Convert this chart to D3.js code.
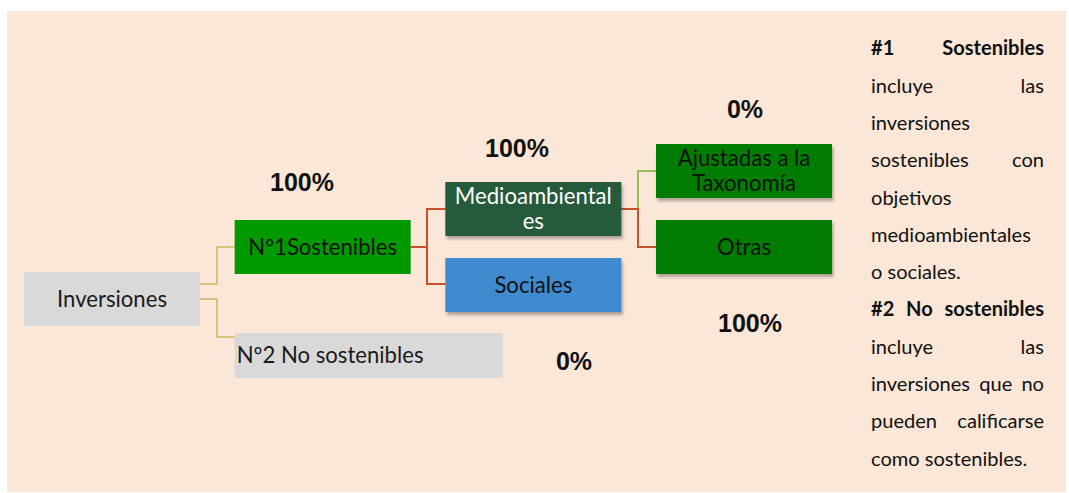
<!DOCTYPE html>
<html><head><meta charset="utf-8">
<script src="https://cdn.jsdelivr.net/npm/d3@7"></script>
<style>body{margin:0;background:#fff}svg{display:block}</style>
</head><body>
<svg id="c" width="1069" height="493"></svg>
<script>
// ---------- DATA ----------
const nodeNames   = ["Inversiones","Nº1Sostenibles","Nº2 No sostenibles","Medioambientales","Sociales","Ajustadas a la Taxonomía","Otras"];
const parentNames = [null,"Inversiones","Inversiones","Nº1Sostenibles","Nº1Sostenibles","Medioambientales","Medioambientales"];
const nodeLabelLines = [["Inversiones"],["Nº1Sostenibles"],["Nº2 No sostenibles"],["Medioambiental","es"],["Sociales"],["Ajustadas a la","Taxonomía"],["Otras"]];
const shareValues = [null,100,0,100,null,0,100];
const legendLines = ["#1 Sostenibles","incluye las","inversiones","sostenibles con","objetivos","medioambientales","o sociales.",
                     "#2 No sostenibles","incluye las","inversiones que no","pueden calificarse","como sostenibles."];
const legendBold    = [true,false,false,false,false,false,false,true,false,false,false,false];
const legendJustify = [true,true,false,true,false,false,false,true,true,true,true,false];

// ---------- LAYOUT / STYLE ----------
const W = 1069, H = 493;
const svg = d3.select("#c");
const colX = d3.scaleLinear().domain([0,3]).range([24,656]);
const boxStyle = {
  "Inversiones":              {top:272, h:54, w:176, fill:"#D9D9D9", color:"#1a1a1a", shadow:false, anchor:"middle"},
  "Nº1Sostenibles":           {top:220, h:54, w:176, fill:"#009900", color:"#111",    shadow:false, anchor:"middle"},
  "Nº2 No sostenibles":       {top:333, h:45, w:268, fill:"#D9D9D9", color:"#1a1a1a", shadow:false, anchor:"start"},
  "Medioambientales":         {top:182, h:54, w:176, fill:"#265A3C", color:"#ffffff", shadow:true,  anchor:"middle", textTop:196, lineGap:25.5},
  "Sociales":                 {top:258, h:54, w:176, fill:"#3F8BD0", color:"#111",    shadow:true,  anchor:"middle"},
  "Ajustadas a la Taxonomía": {top:144, h:54, w:176, fill:"#007D00", color:"#111",    shadow:true,  anchor:"middle", textTop:158, lineGap:25.5},
  "Otras":                    {top:220, h:54, w:176, fill:"#007D00", color:"#111",    shadow:true,  anchor:"middle"}
};
const linkStyle = {
  "Nº1Sostenibles":           {y0:284, y1:247, mid:217, color:"#D6C47E"},
  "Nº2 No sostenibles":       {y0:299, y1:337, mid:217, color:"#D6C47E"},
  "Medioambientales":         {y0:247, y1:209, mid:427, color:"#C8502C"},
  "Sociales":                 {y0:247, y1:284, mid:427, color:"#C8502C"},
  "Ajustadas a la Taxonomía": {y0:209, y1:171, mid:638, color:"#9BBB59"},
  "Otras":                    {y0:209, y1:247, mid:638, color:"#C8502C"}
};
const pctPos = {
  "Nº1Sostenibles":[302,182], "Nº2 No sostenibles":[574,361], "Medioambientales":[517,148],
  "Ajustadas a la Taxonomía":[745,109], "Otras":[750,323]
};

// background panel
svg.append("rect").attr("x",7).attr("y",11).attr("width",1059).attr("height",481).attr("fill","#FAE7D7");

const defs = svg.append("defs");
defs.append("filter").attr("id","sh").attr("x","-10%").attr("y","-10%").attr("width","130%").attr("height","140%")
  .append("feDropShadow").attr("dx",1.5).attr("dy",3).attr("stdDeviation",1.6)
  .attr("flood-color","#000").attr("flood-opacity",0.3);

// font fitting
const FONT = "Lato, 'Open Sans', sans-serif";
function measure(txt, size, weight){
  const t = svg.append("text").attr("font-family",FONT).attr("font-size",size).attr("font-weight",weight||"normal").text(txt);
  const w = t.node().getComputedTextLength(); t.remove(); return w;
}
const boxFont = 100*110/measure("Inversiones",100);
const legFont = 100*160/measure("medioambientales",100);

// hierarchy
const table = nodeNames.map((n,i)=>({name:n, parent:parentNames[i], lines:nodeLabelLines[i], value:shareValues[i]}));
const root = d3.stratify().id(d=>d.name).parentId(d=>d.parent)(table);
const nodes = root.descendants();

// links
const gl = svg.append("g");
root.links().forEach(l=>{
  const s = boxStyle[l.source.id], ls = linkStyle[l.target.id];
  const x0 = colX(l.source.depth)+s.w, x1 = colX(l.target.depth);
  const p = d3.path();
  p.moveTo(x0, ls.y0); p.lineTo(ls.mid, ls.y0); p.lineTo(ls.mid, ls.y1); p.lineTo(x1, ls.y1);
  gl.append("path").attr("d",p.toString()).attr("fill","none").attr("stroke",ls.color).attr("stroke-width",2);
});

// boxes
const gb = svg.append("g");
nodes.forEach(n=>{
  const s = boxStyle[n.id], x = colX(n.depth);
  gb.append("rect").attr("x",x).attr("y",s.top).attr("width",s.w).attr("height",s.h)
    .attr("fill",s.fill).attr("filter",s.shadow?"url(#sh)":null);
  const lines = n.data.lines;
  const tx = s.anchor==="start" ? x+2 : x+s.w/2;
  lines.forEach((ln,i)=>{
    const cy = lines.length>1 ? s.textTop + i*s.lineGap : s.top + s.h/2;
    gb.append("text").attr("x",tx).attr("y",cy).attr("dy","0.35em")
      .attr("text-anchor",s.anchor).attr("font-family",FONT).attr("font-size",boxFont)
      .attr("fill",s.color).text(ln);
  });
});

// percentages
const fmt = v => d3.format("d")(v)+"%";
nodes.filter(n=>n.data.value!=null).forEach(n=>{
  const p = pctPos[n.id];
  svg.append("text").attr("x",p[0]).attr("y",p[1]).attr("dy","0.36em").attr("text-anchor","middle")
    .attr("font-family","'Liberation Sans', Arial, sans-serif").attr("font-weight","bold").attr("font-size",25)
    .attr("fill","#111").text(fmt(n.data.value));
});

// legend (justified)
const LX0 = 871, LX1 = 1044, LY0 = 48.3, LDY = 37.3;
const gleg = svg.append("g");
legendLines.forEach((ln,i)=>{
  const y = LY0 + i*LDY, wt = legendBold[i] ? "bold" : "normal";
  const words = ln.split(" ");
  if (legendJustify[i] && words.length>1){
    const ws = words.map(w=>measure(w,legFont,wt));
    const gap = (LX1-LX0-d3.sum(ws))/(words.length-1);
    let x = LX0;
    words.forEach((w,j)=>{
      gleg.append("text").attr("x",x).attr("y",y).attr("dy","0.35em").attr("font-family",FONT)
        .attr("font-size",legFont).attr("font-weight",wt).attr("fill","#111").text(w);
      x += ws[j]+gap;
    });
  } else {
    gleg.append("text").attr("x",LX0).attr("y",y).attr("dy","0.35em").attr("font-family",FONT)
      .attr("font-size",legFont).attr("font-weight",wt).attr("fill","#111").text(ln);
  }
});
</script>
</body></html>
